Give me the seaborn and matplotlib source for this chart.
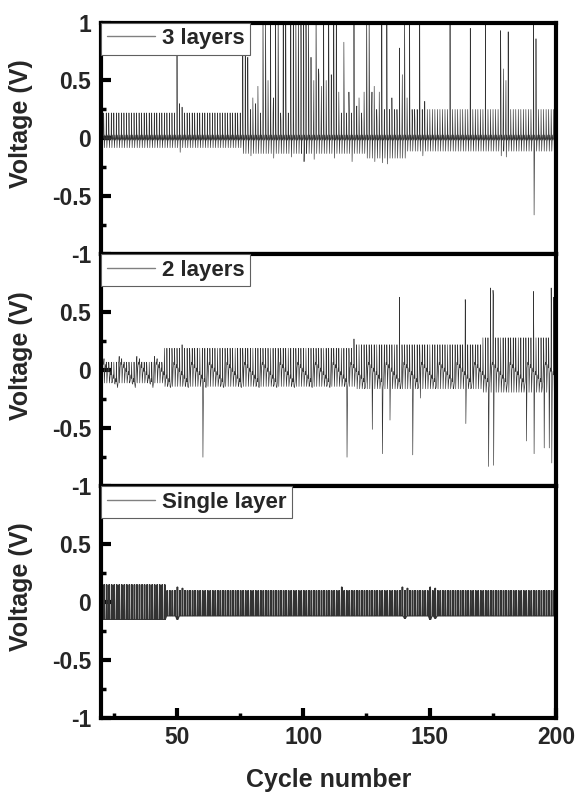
import numpy as np
import pandas as pd
import matplotlib
matplotlib.use("Agg")
import matplotlib.pyplot as plt
import seaborn as sns
from matplotlib.ticker import FuncFormatter, FixedLocator

# ---------------- data ----------------
first_cycle, last_cycle = 21, 200

# 3 layers: per-cycle envelope levels (start, end, value) and single-cycle spikes
up3_levels = [(21, 75, 0.22), (76, 125, 0.22), (126, 200, 0.25)]
low3_levels = [(21, 75, -0.08), (76, 124, -0.13), (125, 140, -0.17), (141, 200, -0.11)]
sec3_levels = [(21, 75, 0.04), (76, 145, 0.15), (146, 200, 0.05)]
up3_spikes = {50: 0.72, 51: 0.30, 52: 0.27, 76: 1.2, 77: 1.2, 78: 0.70, 80: 0.35,
              82: 0.45, 84: 1.2, 85: 1.2, 86: 0.50, 87: 1.2, 89: 1.2, 90: 1.2,
              92: 1.2, 93: 1.2, 95: 1.2, 96: 1.2, 97: 1.2, 98: 1.2, 99: 1.2,
              100: 1.2, 101: 1.2, 102: 1.2, 103: 0.70, 105: 1.2, 106: 0.60,
              108: 1.2, 109: 0.50, 110: 1.2, 111: 0.55, 112: 1.2, 113: 1.2,
              114: 0.40, 116: 0.83, 118: 0.40, 120: 1.2, 122: 0.35, 124: 0.40,
              125: 1.2, 126: 1.2, 128: 0.45, 130: 0.40, 131: 1.2, 133: 1.2,
              135: 0.35, 138: 0.78, 140: 1.2, 141: 0.35, 142: 1.2, 146: 1.2,
              148: 0.32, 158: 1.2, 166: 0.95, 172: 1.2, 178: 0.93, 181: 0.92,
              191: 1.2, 192: 0.86}
sec3_spikes = {77: 0.30, 79: 0.25, 81: 0.30, 84: 0.60, 85: 0.65, 88: 0.35, 90: 0.55,
               93: 0.35, 96: 0.30, 97: 0.45, 98: 0.65, 99: 0.90, 100: 1.0, 101: 0.80,
               102: 0.45, 104: 0.50, 105: 0.60, 106: 0.55, 107: 0.45, 110: 0.35,
               111: 0.45, 112: 0.35, 116: 0.40, 118: 0.25, 121: 0.28, 125: 0.45,
               126: 0.50, 127: 0.40, 133: 0.30, 134: 0.25, 136: 0.22, 139: 0.55,
               140: 0.45, 178: 0.55, 179: 0.60, 180: 0.50, 191: 0.35}
low3_spikes = {51: -0.12, 79: -0.15, 88: -0.17, 95: -0.16, 100: -0.20, 104: -0.18,
               112: -0.17, 119: -0.20, 128: -0.20, 131: -0.21, 133: -0.22,
               147: -0.15, 178: -0.15, 180: -0.16, 191: -0.66}

# 2 layers
up2_levels = [(21, 44, 0.07), (45, 120, 0.19), (121, 170, 0.22), (171, 200, 0.28)]
low2_levels = [(21, 44, -0.11), (45, 120, -0.14), (121, 170, -0.16), (171, 200, -0.19)]
saw2_pattern = [0.05, 0.02, -0.01, -0.04, -0.07, -0.10, 0.07]
up2_spikes = {52: 0.22, 120: 0.27, 138: 0.63, 164: 0.61, 174: 0.71, 175: 0.69,
              191: 0.68, 198: 0.71, 199: 0.63}
sec2_spikes = {164: 0.51, 175: 0.65, 191: 0.33, 198: 0.44}
low2_spikes = {60: -0.75, 117: -0.75, 127: -0.51, 131: -0.72, 134: -0.43,
               143: -0.73, 146: -0.24, 164: -0.46, 173: -0.83, 175: -0.82,
               188: -0.61, 191: -0.72, 195: -0.67, 197: -0.67, 198: -0.80}

# Single layer
up1_levels = [(21, 45, 0.15), (46, 200, 0.10)]
low1_levels = [(21, 45, -0.15), (46, 200, -0.12)]
up1_spikes = {50: 0.13, 52: 0.12, 115: 0.13, 139: 0.13, 141: 0.12, 150: 0.13, 152: 0.12}
low1_spikes = {50: -0.15, 140: -0.14, 150: -0.15, 152: -0.14}

labels = ["3 layers", "2 layers", "Single layer"]
x_ticks = [50, 100, 150, 200]

# ---------------- build traces ----------------
cycles = np.arange(first_cycle, last_cycle + 1)


def per_cycle(levels, spikes=None):
    out = np.zeros(len(cycles))
    for s, e, v in levels:
        out[(cycles >= s) & (cycles <= e)] = v
    if spikes:
        for c, v in spikes.items():
            out[cycles == c] = v
    return out


def trace(columns, offs):
    xs, ys = [], []
    for i, c in enumerate(cycles):
        for o, col in zip(offs, columns):
            xs.append(c + o)
            ys.append(col[i])
    return pd.DataFrame({"cycle": xs, "voltage": ys})


# panel 1: spike up, secondary peak, dip, small ripple
up3 = per_cycle(up3_levels, up3_spikes)
low3 = per_cycle(low3_levels, low3_spikes)
sec3 = per_cycle(sec3_levels, sec3_spikes)
z = np.zeros(len(cycles))
r3 = 0.03
df3 = trace([z, up3, sec3, low3, z + r3, z - r3 * 0.5],
            [0.0, 0.08, 0.2, 0.33, 0.55, 0.8])

# panel 2: ripple riding on a saw-tooth drift
saw2 = np.array([saw2_pattern[i % len(saw2_pattern)] for i in range(len(cycles))])
up2 = per_cycle(up2_levels, up2_spikes)
low2 = per_cycle(low2_levels, low2_spikes)
hi2 = saw2 + 0.05
for c, v in sec2_spikes.items():
    hi2[cycles == c] = v
r2 = 0.05
df2 = trace([saw2, up2, hi2, low2, saw2 - r2, saw2],
            [0.0, 0.08, 0.2, 0.33, 0.55, 0.8])

# panel 3: full swing oscillation
up1 = per_cycle(up1_levels, up1_spikes)
low1 = per_cycle(low1_levels, low1_spikes)
df1 = trace([low1, up1, low1, up1, low1],
            [0.0, 0.12, 0.24, 0.36, 0.48])

# ---------------- plot ----------------
sns.set_style("ticks")
plt.rcParams["font.family"] = ["Liberation Sans", "DejaVu Sans"]
plt.rcParams["font.weight"] = "bold"
plt.rcParams["axes.labelweight"] = "bold"

fig, axes = plt.subplots(3, 1, figsize=(5.79, 7.96), dpi=100, sharex=True,
                         gridspec_kw=dict(hspace=0))
fig.subplots_adjust(left=0.1744, right=0.9603, top=0.9717, bottom=0.098)

fmt = FuncFormatter(lambda v, p: f"{v:g}")
line_w = [0.45, 0.45, 0.7]
for k, (ax, df, lab) in enumerate(zip(axes, [df3, df2, df1], labels)):
    sns.lineplot(data=df, x="cycle", y="voltage", ax=ax, sort=False, estimator=None,
                 color="#333333", lw=line_w[k], label=lab)
    ax.set_xlim(20, 200)
    ax.set_ylim(-1, 1)
    if k == 0:
        ax.yaxis.set_major_locator(FixedLocator([-1, -0.5, 0, 0.5, 1]))
    else:
        ax.yaxis.set_major_locator(FixedLocator([-1, -0.5, 0, 0.5]))
    ax.yaxis.set_minor_locator(FixedLocator([-0.75, -0.25, 0.25, 0.75]))
    ax.yaxis.set_major_formatter(fmt)
    for sp in ax.spines.values():
        sp.set_linewidth(3)
        sp.set_color("black")
    ax.tick_params(axis="both", which="major", direction="in", length=7, width=3,
                   labelsize=16.5, pad=7, right=False, top=False, color="black")
    ax.tick_params(axis="both", which="minor", direction="in", length=3.5, width=2.5,
                   right=False, top=False, color="black")
    ax.set_ylabel("Voltage (V)", fontsize=18, fontweight="bold")
    ax.yaxis.set_label_coords(-0.149, 0.565)
    ax.set_xlabel("")
    leg = ax.legend(loc="upper left", bbox_to_anchor=(0, 1), borderaxespad=0,
                    fancybox=False, framealpha=1, edgecolor="#606060",
                    prop=dict(size=16, weight="bold"), handlelength=2.2,
                    handletextpad=0.3, borderpad=0.25)
    leg.get_frame().set_linewidth(0.8)
    for ln in leg.get_lines():
        ln.set_color("#808080")
        ln.set_linewidth(1.0)
    if k < 2:
        ax.tick_params(axis="x", which="both", length=0, labelbottom=False)

ax = axes[2]
ax.xaxis.set_major_locator(FixedLocator(x_ticks))
ax.xaxis.set_minor_locator(FixedLocator([25, 75, 125, 175]))
ax.set_xlabel("Cycle number", fontsize=18, fontweight="bold")
ax.xaxis.set_label_coords(0.5, -0.215)
ax.tick_params(axis="x", which="major", pad=6)

fig.savefig("out.png", dpi=100)
